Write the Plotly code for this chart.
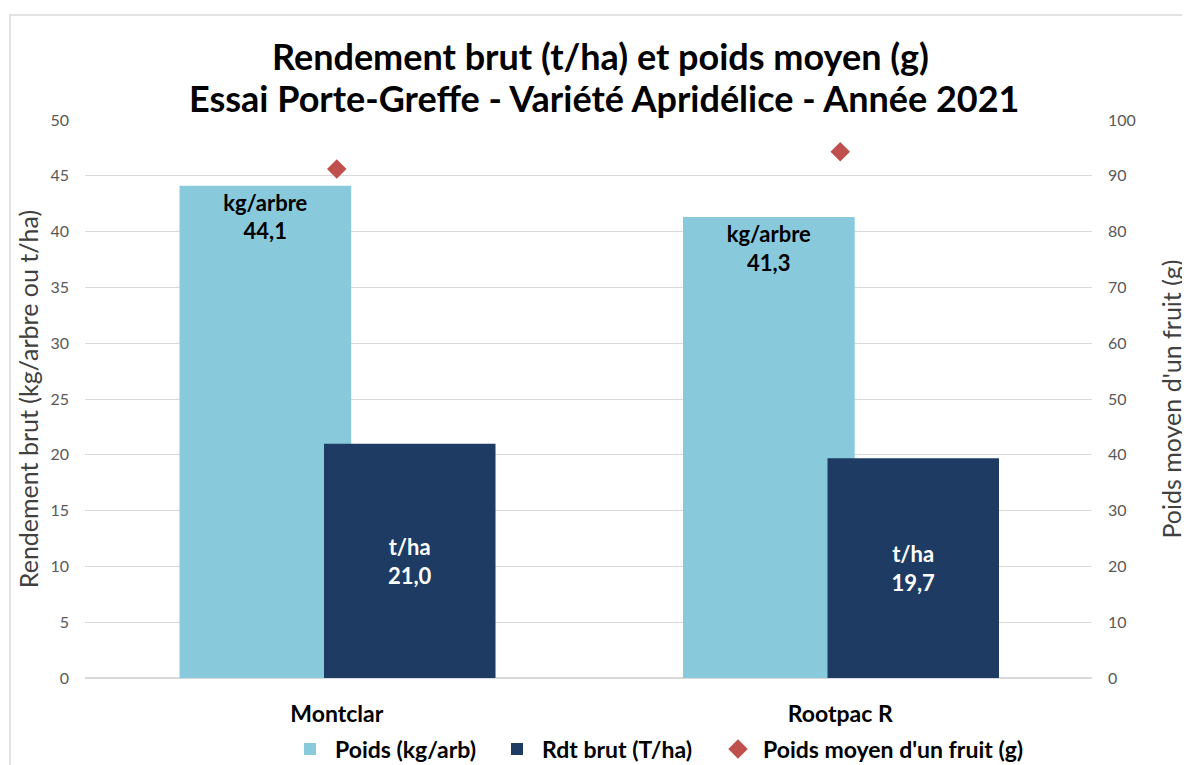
import plotly.graph_objects as go

categories = ["Montclar", "Rootpac R"]
poids_kg_arbre = [44.1, 41.3]
rdt_brut_t_ha = [21.0, 19.7]
poids_moyen_fruit = [91.2, 94.3]

title_lines = ["Rendement brut (t/ha) et poids moyen (g)",
               "Essai Porte-Greffe - Variété Apridélice - Année 2021"]

x_pos = list(range(len(categories)))

FONT = "Lato"
# page body has an 8px margin: figure is shrunk and offset accordingly
OFF = 8
W, H = 1190 - OFF, 765 - OFF
L, T = 85 - OFF, 120 - OFF
PW, PH = 1007, 558
R, B = W - L - PW, H - T - PH


def px_x(page_x):
    return (page_x - OFF - L) / PW


def px_y(page_y):
    return (T + PH - (page_y - OFF)) / PH


fig = go.Figure()

fig.add_trace(go.Bar(
    x=x_pos, y=poids_kg_arbre, name="Poids (kg/arb)", legend="legend", showlegend=True,
    marker=dict(color="#88c9dc", line=dict(width=0)),
    width=0.341, offset=-0.3123,
    texttemplate="kg/arbre<br>%{y:.1f}", textposition="inside",
    insidetextanchor="end",
    textfont=dict(family=FONT, size=22, color="#000000", weight="bold"),
))
fig.add_trace(go.Bar(
    x=x_pos, y=rdt_brut_t_ha, name="Rdt brut (T/ha)", legend="legend2", showlegend=True,
    marker=dict(color="#1d3b63", line=dict(width=0)),
    width=0.3406, offset=-0.0253,
    texttemplate="t/ha<br>%{y:.1f}", textposition="inside",
    insidetextanchor="middle",
    textfont=dict(family=FONT, size=22, color="#ffffff", weight="bold"),
))
fig.add_trace(go.Scatter(
    x=x_pos, y=poids_moyen_fruit, name="Poids moyen d'un fruit (g)", legend="legend3",
    showlegend=True, mode="markers", yaxis="y2",
    marker=dict(symbol="diamond", size=15, color="#c0504d"),
))

legend_font = dict(family=FONT, size=23, color="#000000", weight="bold")


def leg(page_x):
    return dict(orientation="h", x=px_x(page_x), xanchor="left", y=px_y(749), yanchor="middle",
                font=legend_font, bgcolor="rgba(0,0,0,0)", itemwidth=40, visible=True)


fig.update_layout(
    width=W, height=H,
    showlegend=True,
    paper_bgcolor="#ffffff", plot_bgcolor="#ffffff",
    separators=", ",
    barmode="overlay",
    margin=dict(l=L, r=R, t=T, b=B, autoexpand=False),
    font=dict(family=FONT, color="#595959"),
    xaxis=dict(
        range=[-0.5, 1.5], tickvals=x_pos, ticktext=categories,
        showgrid=False, zeroline=False, showline=False, ticks="",
        tickfont=dict(family=FONT, size=23, color="#000000", weight="bold"),
        ticklabelstandoff=20, automargin=False,
    ),
    yaxis=dict(
        range=[0, 50], dtick=5, showgrid=True, gridcolor="#d9d9d9", gridwidth=1,
        zeroline=True, zerolinecolor="#d9d9d9", showline=False, ticks="",
        tickfont=dict(family=FONT, size=16, color="#595959"),
        ticklabelstandoff=15, automargin=False,
        title=dict(text="Rendement brut (kg/arbre ou t/ha)", standoff=4,
                   font=dict(family=FONT, size=25, color="#404040")),
    ),
    yaxis2=dict(
        range=[0, 100], dtick=10, overlaying="y", side="right",
        showgrid=False, zeroline=False, showline=False, ticks="",
        tickfont=dict(family=FONT, size=16, color="#595959"),
        ticklabelstandoff=15, automargin=False,
        title=dict(text="Poids moyen d'un fruit (g)", standoff=28,
                   font=dict(family=FONT, size=25, color="#404040")),
    ),
    legend=leg(285),
    legend2=leg(492),
    legend3=leg(713),
    annotations=[
        dict(text=title_lines[0], xref="paper", yref="paper",
             x=px_x(600), y=px_y(56), xanchor="center", yanchor="middle",
             showarrow=False, font=dict(family=FONT, size=36, color="#000000", weight="bold")),
        dict(text=title_lines[1], xref="paper", yref="paper",
             x=px_x(604), y=px_y(98), xanchor="center", yanchor="middle",
             showarrow=False, font=dict(family=FONT, size=36, color="#000000", weight="bold")),
    ],
    shapes=[dict(
        type="rect", xref="paper", yref="paper",
        x0=px_x(10), x1=px_x(1210),
        y0=px_y(790), y1=px_y(15),
        line=dict(color="#d9d9d9", width=1.5), fillcolor="rgba(0,0,0,0)",
        layer="below",
    )],
)

fig.write_html("out.html")
